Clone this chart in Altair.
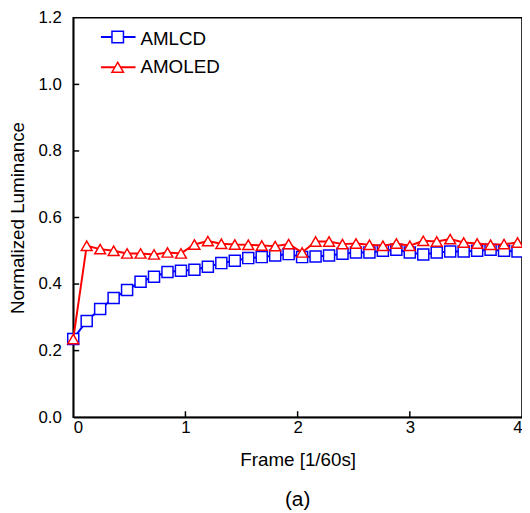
import altair as alt
import pandas as pd

frames = [0.00, 0.12, 0.24, 0.36, 0.48, 0.60, 0.72, 0.84, 0.96, 1.08, 1.20, 1.32,
          1.44, 1.56, 1.68, 1.80, 1.92, 2.04, 2.16, 2.28, 2.40, 2.52, 2.64, 2.76,
          2.88, 3.00, 3.12, 3.24, 3.36, 3.48, 3.60, 3.72, 3.84, 3.96]
amlcd = [0.235, 0.289, 0.325, 0.358, 0.382, 0.407, 0.422, 0.436, 0.440, 0.443, 0.452, 0.463,
         0.470, 0.478, 0.481, 0.486, 0.490, 0.481, 0.483, 0.486, 0.491, 0.495, 0.495, 0.500,
         0.503, 0.495, 0.489, 0.495, 0.498, 0.498, 0.500, 0.503, 0.500, 0.498]
amoled = [0.235, 0.515, 0.505, 0.500, 0.492, 0.492, 0.489, 0.495, 0.492, 0.519, 0.529, 0.521,
          0.519, 0.518, 0.516, 0.514, 0.520, 0.495, 0.528, 0.528, 0.520, 0.522, 0.518, 0.515,
          0.522, 0.515, 0.530, 0.528, 0.535, 0.525, 0.522, 0.518, 0.520, 0.525]
series_names = ["AMLCD", "AMOLED"]
series_colors = ["#0000FF", "#FF0000"]
series_shapes = ["square", "triangle-up"]
x_ticks = [0, 1, 2, 3, 4]
y_ticks = [0.0, 0.2, 0.4, 0.6, 0.8, 1.0, 1.2]

FONT = "Arial, 'Liberation Sans', sans-serif"
W, H = 454, 404

df_lcd = pd.DataFrame({"frame": frames, "lum": amlcd})
df_oled = pd.DataFrame({"frame": frames, "lum": amoled})

xs = alt.Scale(domain=[0, 4], nice=False, zero=False)
ys = alt.Scale(domain=[0, 1.2], nice=False)

x_enc = alt.X("frame:Q", scale=xs, axis=alt.Axis(
    values=x_ticks, format="d", title="Frame [1/60s]", grid=False, ticks=False, tickSize=0,
    labelPadding=3, titlePadding=15, labelFontSize=17, titleFontSize=19,
    labelFont=FONT, titleFont=FONT, titleFontWeight="normal", labelColor="black",
    titleColor="black", domainColor="black", domainWidth=1.6))
y_enc = alt.Y("lum:Q", scale=ys, axis=alt.Axis(
    values=y_ticks, format=".1f", title="Normalized Luminance", grid=False, ticks=False,
    tickSize=0, labelPadding=12, titlePadding=11, labelFontSize=17, titleFontSize=19,
    labelFont=FONT, titleFont=FONT, titleFontWeight="normal", labelColor="black",
    titleColor="black", domainColor="black", domainWidth=1.6))


def series_layers(df, i):
    line = alt.Chart(df).mark_line(color=series_colors[i], strokeWidth=2).encode(x=x_enc, y=y_enc)
    pts = alt.Chart(df).mark_point(shape=series_shapes[i], size=125 if i == 0 else 120,
                                   filled=True, fill="white", stroke=series_colors[i],
                                   strokeWidth=1.5, opacity=1).encode(x="frame:Q", y="lum:Q")
    return [line, pts]


# inward ticks
xt = pd.DataFrame({"t": [1, 2, 3]})
yt = pd.DataFrame({"t": [0.2, 0.4, 0.6, 0.8, 1.0]})
xtick = alt.Chart(xt).mark_rule(color="black", strokeWidth=1.5).encode(
    x="t:Q", y=alt.value(H), y2=alt.value(H - 6))
ytick = alt.Chart(yt).mark_rule(color="black", strokeWidth=1.5).encode(
    y="t:Q", x=alt.value(0), x2=alt.value(6))

# legend
leg = []
leg_line_y = [19.5, 50]
leg_text_y = [21, 50]
for i, name in enumerate(series_names):
    d = pd.DataFrame({"name": [name]})
    leg.append(alt.Chart(d).mark_rule(color=series_colors[i], strokeWidth=2).encode(
        x=alt.value(28), x2=alt.value(63), y=alt.value(leg_line_y[i])))
    leg.append(alt.Chart(d).mark_point(shape=series_shapes[i], size=135, filled=True, fill="white",
                                       stroke=series_colors[i], strokeWidth=1.5, opacity=1).encode(
        x=alt.value(45), y=alt.value(leg_line_y[i])))
    leg.append(alt.Chart(d).mark_text(align="left", baseline="middle", fontSize=19, font=FONT,
                                      color="black").encode(
        x=alt.value(68), y=alt.value(leg_text_y[i]), text="name:N"))

layers = series_layers(df_lcd, 0) + series_layers(df_oled, 1) + [xtick, ytick] + leg

chart = alt.layer(*layers).properties(
    width=W, height=H,
    title=alt.TitleParams("(a)", orient="bottom", fontSize=21, font=FONT, fontWeight="normal",
                          color="black", offset=20),
    autosize=alt.AutoSizeParams(type="none"),
    padding={"left": 66, "top": 7, "right": 0, "bottom": 94},
).configure_view(stroke="black", strokeWidth=1.6)

chart.save("out.html", embed_options={"renderer": "svg", "actions": False})
